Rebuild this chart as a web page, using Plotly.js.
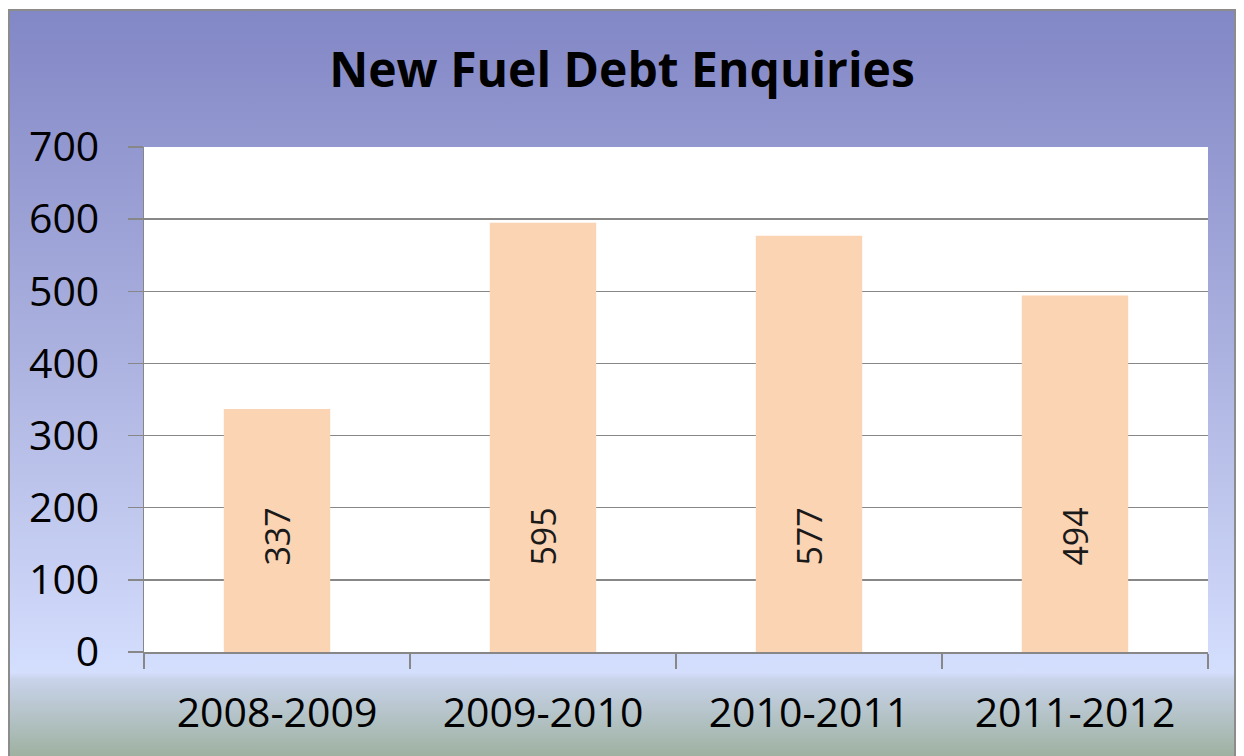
<!DOCTYPE html>
<html>
<head>
<meta charset="utf-8">
<script src="https://cdn.plot.ly/plotly-3.0.1.min.js"></script>
<style>
  html, body { margin: 0; padding: 0; width: 1244px; height: 756px; overflow: hidden; background: #ffffff; }
  #bg {
    position: absolute; left: 8px; top: 9px; width: 1228px; height: 800px;
    border: 2px solid #8c8c8c; box-sizing: border-box;
    background: linear-gradient(to bottom, #8287c6 0px, #aab0de 330px, #d4defd 662px, #c8d3ea 668px, #9caf9c 750px, #97aa96 800px);
  }
  #chart { position: absolute; left: 0; top: 0; width: 1244px; height: 756px; }
</style>
</head>
<body>
<div id="bg"></div>
<div id="chart"></div>
<script>
const categories = ["2008-2009", "2009-2010", "2010-2011", "2011-2012"];
const enquiries = [337, 595, 577, 494];
const yTicks = [0, 100, 200, 300, 400, 500, 600, 700];
const chartTitle = "New Fuel Debt Enquiries";

const fontFam = "'Open Sans', 'Liberation Sans', sans-serif";

const trace = {
  type: "bar",
  x: categories,
  y: enquiries,
  width: 0.4,
  marker: { color: "#fbd4b4", line: { width: 0 } },
  hoverinfo: "none"
};

const labelCenter = 160;
const annotations = categories.map((c, i) => ({
  x: c, y: labelCenter, xref: "x", yref: "y",
  text: String(enquiries[i]),
  textangle: -90,
  showarrow: false,
  xanchor: "center", yanchor: "middle",
  font: { family: fontFam, size: 34, color: "#1a1a1a" }
}));

const layout = {
  width: 1244, height: 756,
  paper_bgcolor: "rgba(0,0,0,0)",
  plot_bgcolor: "#ffffff",
  margin: { l: 144, r: 36, t: 147, b: 104, pad: 0 },
  showlegend: false,
  title: {
    text: "<b>" + chartTitle + "</b>",
    x: 0.5, xref: "container", xanchor: "center",
    y: 1 - 70 / 756, yref: "container", yanchor: "middle",
    font: { family: fontFam, size: 48, color: "#000000" }
  },
  xaxis: {
    type: "category",
    showline: true, linecolor: "#878787", linewidth: 1.5,
    ticks: "outside", tickson: "boundaries", ticklen: 15, tickcolor: "#878787", tickwidth: 1.5,
    showgrid: false,
    tickfont: { family: fontFam, size: 41, color: "#000000" },
    ticklabelstandoff: 24
  },
  yaxis: {
    range: [0, 700],
    tickvals: yTicks,
    ticktext: yTicks.map(String),
    showline: true, linecolor: "#878787", linewidth: 1.5,
    ticks: "outside", ticklen: 15, tickcolor: "#878787", tickwidth: 1.5,
    showgrid: true, gridcolor: "#878787", gridwidth: 1.5,
    zeroline: false,
    tickfont: { family: fontFam, size: 41, color: "#000000" },
    ticklabelstandoff: 20
  },
  annotations: annotations
};

Plotly.newPlot("chart", [trace], layout, { displayModeBar: false, staticPlot: true });
</script>
</body>
</html>
